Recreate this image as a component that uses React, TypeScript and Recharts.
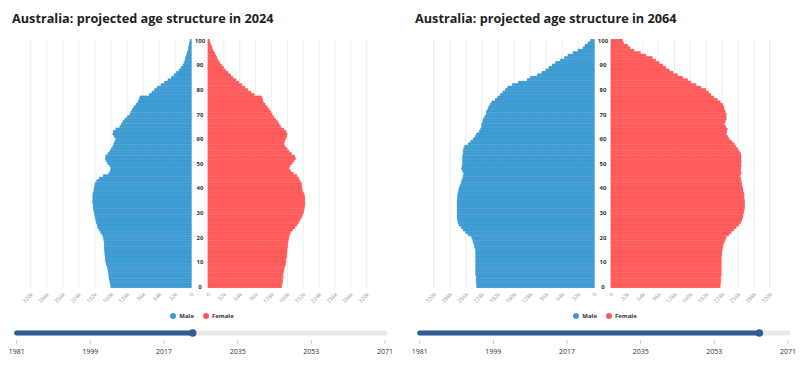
import React from "react";
import {
  BarChart,
  Bar,
  XAxis,
  YAxis,
  CartesianGrid,
  ComposedChart,
  ReferenceLine,
  ReferenceDot,
} from "recharts";

// ages 0..100 (category axis)
const AGES = Array.from({ length: 101 }, (_, i) => i);

// population per single year of age, thousands
const MALE_2024 = [
  160, 161, 162, 163, 164, 164, 165, 166, 167, 169, 170, 171, 171, 172, 172, 173, 173, 173, 173, 174,
  175, 177, 180, 183, 186, 187, 189, 190, 191, 192, 193, 194, 195, 195, 196, 196, 196, 196, 195, 194,
  193, 192, 191, 188, 183, 175, 164, 161, 160, 162, 166, 169, 171, 170, 166, 162, 159, 156, 154, 152,
  150, 153, 156, 155, 150, 142, 139, 136, 132, 127, 122, 120, 117, 114, 110, 106, 104, 102, 83, 78,
  73, 67, 60, 53, 46, 39, 34, 29, 24, 20, 16, 14, 12, 11, 9, 8, 6, 5, 4, 3, 2,
];
const FEMALE_2024 = [
  148, 149, 150, 150, 151, 151, 152, 153, 154, 156, 157, 157, 158, 158, 159, 159, 160, 160, 161, 162,
  163, 164, 166, 170, 175, 179, 182, 185, 188, 190, 192, 193, 194, 195, 195, 195, 195, 194, 192, 190,
  189, 189, 188, 185, 182, 179, 172, 166, 163, 165, 169, 173, 176, 174, 168, 163, 159, 155, 153, 154,
  156, 158, 159, 157, 152, 146, 143, 140, 136, 132, 129, 126, 123, 119, 115, 111, 110, 108, 93, 86,
  80, 74, 68, 62, 56, 50, 45, 40, 35, 31, 27, 23, 20, 18, 15, 13, 10, 8, 6, 4, 3,
];
const MALE_2064 = [
  234, 234, 235, 235, 235, 236, 236, 236, 236, 236, 236, 236, 236, 236, 236, 236, 238, 239, 241, 242,
  244, 251, 256, 261, 265, 269, 271, 272, 273, 273, 273, 273, 273, 273, 273, 273, 272, 272, 271, 270,
  269, 267, 265, 264, 262, 261, 260, 262, 264, 263, 262, 262, 262, 262, 261, 261, 260, 258, 251, 246,
  241, 237, 234, 229, 226, 224, 224, 222, 221, 218, 215, 215, 212, 210, 207, 204, 197, 192, 187, 182,
  177, 172, 163, 151, 133, 127, 113, 104, 96, 90, 83, 77, 67, 59, 52, 42, 32, 22, 18, 12, 7,
];
const FEMALE_2064 = [
  220, 220, 221, 221, 221, 222, 222, 222, 222, 222, 222, 222, 222, 223, 223, 224, 225, 226, 228, 230,
  232, 237, 242, 247, 252, 257, 261, 263, 265, 266, 267, 268, 269, 269, 269, 269, 268, 268, 267, 266,
  265, 264, 263, 262, 261, 260, 262, 261, 261, 262, 262, 262, 262, 262, 261, 258, 255, 251, 248, 243,
  238, 235, 232, 233, 234, 231, 228, 230, 232, 232, 232, 230, 228, 227, 225, 220, 214, 207, 201, 196,
  191, 181, 171, 161, 154, 144, 134, 125, 117, 110, 104, 97, 90, 83, 70, 59, 46, 38, 33, 25, 23,
];

const X_TICKS = [0, 32, 64, 96, 128, 160, 192, 224, 256, 288, 320];
const YEAR_TICKS = [1981, 1999, 2017, 2035, 2053, 2071];
const FIRST_YEAR = 1981;
const LAST_YEAR = 2071;

const PANELS = [
  { year: 2024, male: MALE_2024, female: FEMALE_2024 },
  { year: 2064, male: MALE_2064, female: FEMALE_2064 },
];

const MALE_COLOR = "#3d9bd3";
const FEMALE_COLOR = "#ff5a5a";
const GRID = "#ececec";
const SLIDER = "#2e5d95";
const FONT = "'Open Sans', sans-serif";

const fmt = (v: number) => (v === 0 ? "0" : `${v}k`);

const AgeTick = (props: any) => (
  <text
    x={200}
    y={props.y}
    dy={2}
    textAnchor="middle"
    fontSize={6}
    fontWeight={700}
    fill="#333"
    fontFamily={FONT}
  >
    {props.payload.value}
  </text>
);

const xTick = { fontSize: 5.5, fill: "#999", textAnchor: "end", fontFamily: FONT };

function Pyramid({ male, female }: { male: number[]; female: number[] }) {
  const data = AGES.map((age) => ({ age, male: male[age], female: female[age] })).reverse();
  return (
    <>
      <div style={{ position: "absolute", left: 0, top: 0 }}>
        <BarChart
          layout="vertical"
          width={208}
          height={315}
          data={data}
          margin={{ top: 39.5, right: 0, bottom: 5, left: 30.7 }}
          barCategoryGap={0}
        >
          <CartesianGrid horizontal={false} stroke={GRID} />
          <XAxis
            type="number"
            domain={[0, 320]}
            ticks={X_TICKS}
            reversed
            interval={0}
            tickFormatter={fmt}
            angle={-45}
            tick={xTick}
            axisLine={false}
            tickLine={false}
            tickSize={2}
            tickMargin={2}
            height={22}
          />
          <YAxis
            type="category"
            dataKey="age"
            orientation="right"
            width={16.8}
            interval={9}
            axisLine={false}
            tickLine={false}
            tick={AgeTick}
          />
          <Bar
            dataKey="male"
            fill={MALE_COLOR}
            stroke={MALE_COLOR}
            strokeWidth={0.9}
            isAnimationActive={false}
          />
        </BarChart>
      </div>
      <div style={{ position: "absolute", left: 196.3, top: 0 }}>
        <BarChart
          layout="vertical"
          width={209}
          height={315}
          data={data}
          margin={{ top: 39.5, right: 38.3, bottom: 5, left: 12 }}
          barCategoryGap={0}
        >
          <CartesianGrid horizontal={false} stroke={GRID} />
          <XAxis
            type="number"
            domain={[0, 320]}
            ticks={X_TICKS}
            interval={0}
            tickFormatter={fmt}
            angle={-45}
            tick={xTick}
            axisLine={false}
            tickLine={false}
            tickSize={2}
            tickMargin={2}
            height={22}
          />
          <YAxis type="category" dataKey="age" hide width={0} />
          <Bar
            dataKey="female"
            fill={FEMALE_COLOR}
            stroke={FEMALE_COLOR}
            strokeWidth={0.9}
            isAnimationActive={false}
          />
        </BarChart>
      </div>
    </>
  );
}

function YearSlider({ year }: { year: number }) {
  const track = [
    { year: FIRST_YEAR, y: 0 },
    { year: LAST_YEAR, y: 1 },
  ];
  return (
    <ComposedChart
      width={405}
      height={40}
      data={track}
      margin={{ top: 6, right: 20, bottom: 0, left: 16.7 }}
    >
      <XAxis
        type="number"
        dataKey="year"
        domain={[FIRST_YEAR, LAST_YEAR]}
        ticks={YEAR_TICKS}
        interval={0}
        axisLine={false}
        tickSize={4}
        tickMargin={5}
        tickLine={{ stroke: "#ccc" }}
        tick={{ fontSize: 7, fill: "#333", fontFamily: FONT }}
        height={20}
      />
      <YAxis hide type="number" dataKey="y" domain={[0, 1]} />
      <ReferenceLine
        segment={[{ x: FIRST_YEAR, y: 0.5 }, { x: LAST_YEAR, y: 0.5 }]}
        stroke="#e9e9e9"
        strokeWidth={5}
        strokeLinecap="round"
        ifOverflow="visible"
      />
      <ReferenceLine
        segment={[{ x: FIRST_YEAR, y: 0.5 }, { x: year, y: 0.5 }]}
        stroke={SLIDER}
        strokeWidth={5}
        strokeLinecap="round"
        ifOverflow="visible"
      />
      <ReferenceDot x={year} y={0.5} r={3.8} fill={SLIDER} stroke="none" ifOverflow="visible" />
    </ComposedChart>
  );
}

function LegendItem({ color, label }: { color: string; label: string }) {
  return (
    <div style={{ display: "flex", alignItems: "center", marginRight: 9 }}>
      <span
        style={{ width: 6, height: 6, borderRadius: 3, background: color, display: "inline-block", marginRight: 3 }}
      />
      <span style={{ fontSize: 6, fontWeight: 700, color: "#333", lineHeight: "8px" }}>{label}</span>
    </div>
  );
}

export default function App() {
  return (
    <div
      style={{
        position: "absolute",
        left: 0,
        top: 0,
        width: 810,
        height: 373,
        background: "#fff",
        fontFamily: FONT,
        overflow: "hidden",
      }}
    >
      {PANELS.map((p, i) => (
        <div key={p.year} style={{ position: "absolute", left: i * 403, top: 0, width: 405, height: 373 }}>
          <div
            style={{
              position: "absolute",
              left: 12,
              top: 9,
              fontSize: 12.7,
              lineHeight: "18px",
              fontWeight: 700,
              color: "#222",
              whiteSpace: "nowrap",
            }}
          >
            Australia: projected age structure in {p.year}
          </div>
          <Pyramid male={p.male} female={p.female} />
          <div style={{ position: "absolute", left: 170.3, top: 312, display: "flex" }}>
            <LegendItem color={MALE_COLOR} label="Male" />
            <LegendItem color={FEMALE_COLOR} label="Female" />
          </div>
          <div style={{ position: "absolute", left: 0, top: 320 }}>
            <YearSlider year={p.year} />
          </div>
        </div>
      ))}
    </div>
  );
}
